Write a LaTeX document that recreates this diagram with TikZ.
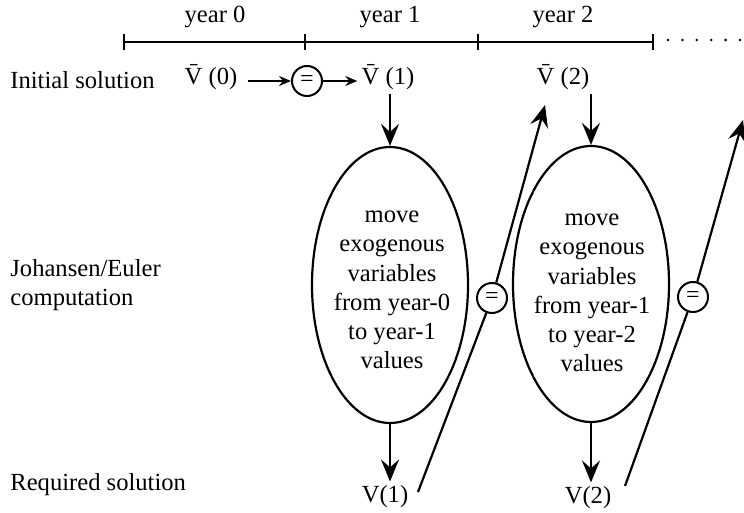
\documentclass[tikz,border=0pt]{standalone}
\usepackage{fontspec}
\setmainfont{Liberation Serif}
\usetikzlibrary{arrows.meta,shapes.geometric}
\tikzset{
	lbl/.style={font=\fontsize{12.3}{14.6}\selectfont, inner sep=2pt},
	eqc/.style={draw, circle, line width=1pt, minimum size=15pt, inner sep=0pt, font=\fontsize{12}{12}\selectfont},
	oval/.style={draw, ellipse, line width=1.1pt, minimum width=78pt, minimum height=138pt},
	bigarr/.style={line width=1.1pt, -{Stealth[length=11pt,width=9pt,inset=4pt]}},
	thinarr/.style={line width=0.8pt, -{Stealth[length=6pt,width=5pt,inset=2pt]}}
}

\begin{document}
\begin{tikzpicture}[x=0.5pt,y=-0.5pt]
		%%%%% START %%%%%
		\useasboundingbox (0,0) rectangle (744,513);
		
		\draw[line width=1.1pt] (124,42) -- (653,42);
		\foreach \x in {124,305,478,653}
			\draw[line width=1.1pt] (\x,34) -- (\x,50);
		\foreach \k in {0,...,5}
			\fill ({668+14.4*\k},40) circle (0.7pt);
		
		\node[lbl] (y0) at (215,17) {year 0};
		\node[lbl] (y1) at (390,17) {year 1};
		\node[lbl] (y2) at (563,17) {year 2};
		
		\node[lbl, anchor=west] (init) at (6,80) {Initial solution};
		\node[lbl, anchor=west, align=left] (jeu) at (6,285) {Johansen/Euler\\computation};
		\node[lbl, anchor=west] (req) at (6,485) {Required solution};
		
		\node[lbl] (vb0) at (211,77) {\=V (0)};
		\node[eqc] (eq0) at (307,81) {=};
		\node[lbl] (vb1) at (388,77) {\=V (1)};
		\node[lbl] (vb2) at (563,77) {\=V (2)};
		\draw[thinarr, shorten <=3pt] (vb0.east |- eq0.west) -- (eq0.west);
		\draw[thinarr] (eq0.east) -- (eq0.east -| vb1.west);
		
		\node[oval] (e1) at (390,285) {};
		\node[oval] (e2) at (591,284) {};
		\node[lbl, align=center] (t1) at (392,290) {move\\exogenous\\variables\\from year-0\\to year-1\\values};
		\node[lbl, align=center] (t2) at (592,293) {move\\exogenous\\variables\\from year-1\\to year-2\\values};
		
		\draw[bigarr] (vb1.south -| e1.north) -- (e1.north);
		\draw[bigarr] (vb2.south -| e2.north) -- (e2.north);
		
		\node[lbl] (v1) at (385,497) {V(1)};
		\node[lbl] (v2) at (588,498) {V(2)};
		\draw[bigarr] (e1.south) -- (e1.south |- v1.north);
		\draw[bigarr] (e2.south) -- (e2.south |- v2.north);
		
		\node[eqc] (eq1) at (492,298) {=};
		\coordinate (low1) at (418,492);
		\coordinate (tip1) at (545,105);
		\draw[line width=1.1pt] (low1) -- (eq1);
		\draw[bigarr] (eq1) -- (tip1);
		
		\node[eqc] (eq2) at (693,297) {=};
		\coordinate (low2) at (625,486);
		\coordinate (tip2) at (743,120);
		\draw[line width=1.1pt] (low2) -- (eq2);
		\draw[bigarr] (eq2) -- (tip2);
		
		%%%%% END %%%%%
\end{tikzpicture}
\end{document}
